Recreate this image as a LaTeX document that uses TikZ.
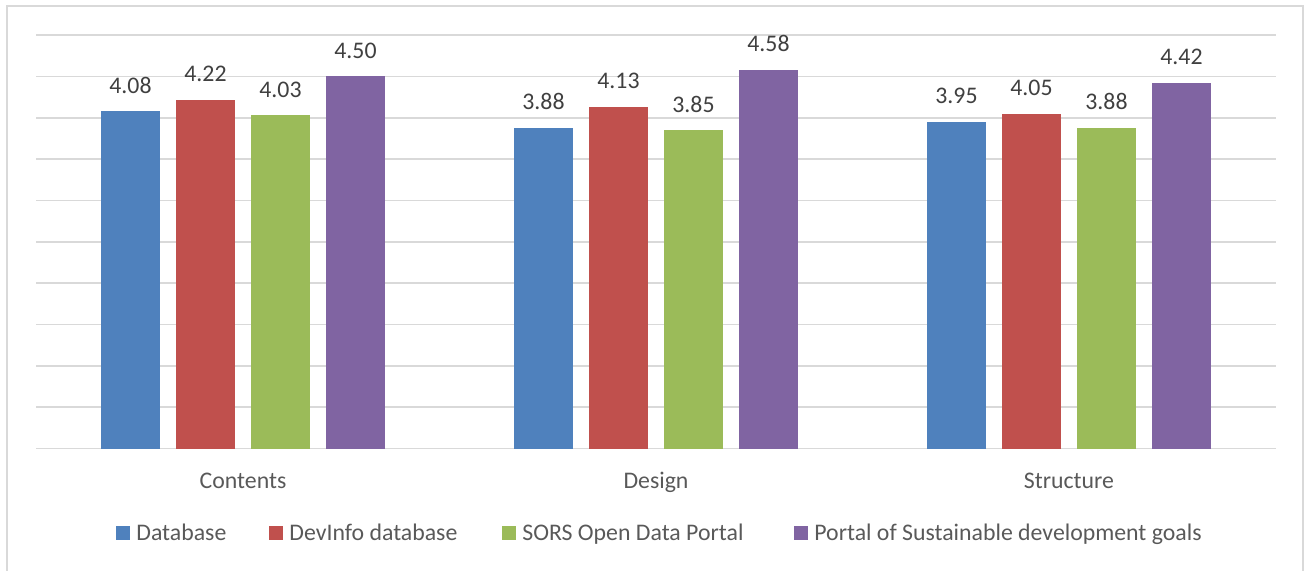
\documentclass[tikz,border=0pt]{standalone}
\usepackage{fontspec}
\setmainfont{Carlito}
\usetikzlibrary{positioning}
\definecolor{dbblue}{HTML}{4F81BD}
\definecolor{devred}{HTML}{C0504D}
\definecolor{sorsgreen}{HTML}{9BBB59}
\definecolor{sdgpurple}{HTML}{8064A2}
\definecolor{gridgray}{HTML}{D9D9D9}
\definecolor{labelgray}{HTML}{595959}
\definecolor{valuegray}{HTML}{404040}

\begin{document}
\begin{tikzpicture} [%
    x = 1pt,
    y = -1pt,
    every node/.style = {%
      font = \fontsize{23.8pt}{28pt}\selectfont,
      text = labelgray },
    gridline/.style = {%
      draw = gridgray,
      line width = 1.6pt },
    vallabel/.style = {%
      anchor = base,
      inner sep = 0pt,
      text = valuegray },
    catlabel/.style = {%
      anchor = base,
      inner sep = 0pt },
    keybox/.style = {%
      minimum size = 14pt,
      inner sep = 0pt,
      draw = none },
    keytext/.style = {%
      anchor = west,
      inner sep = 0pt,
      text height = 15.3pt,
      text depth = 0pt }
  ]

  \useasboundingbox (0,0) rectangle (1305,570);
  \draw[gridgray, line width = 1.6pt] (7,5.7) rectangle (1303,600);

  % gridlines every 0.5 from 0 to 5
  \foreach \k in {0,...,10}
    \draw[gridline] (36,448.5-\k*41.35) -- (1276,448.5-\k*41.35);

  % bars and value labels
  \foreach \col/\a/\b/\c [count=\s from 0] in
      {dbblue/4.08/3.88/3.95, devred/4.22/4.13/4.05,
       sorsgreen/4.03/3.85/3.88, sdgpurple/4.50/4.58/4.42}
    \foreach \v [count=\g from 0] in {\a,\b,\c} {
      \pgfmathsetmacro{\xc}{243+413*\g+(\s-1.5)*75}
      \pgfmathsetmacro{\yt}{448.5-\v*82.7}
      \fill[\col] (\xc-29.5,448.5) rectangle (\xc+29.5,\yt);
      \node[vallabel] (val-\s-\g) at (\xc,\yt-18) {\v};
    }

  % category names
  \node[catlabel] (contents)  at (243,488)  {Contents};
  \node[catlabel] (design)    at (656,488)  {Design};
  \node[catlabel] (structure) at (1069,488) {Structure};

  % legend
  \node[keybox, fill=dbblue]    (kdb)   at (123,533) {};
  \node[keytext] (tdb)   [right=6pt of kdb]   {Database};
  \node[keybox, fill=devred]    (kdev)  at (276,533) {};
  \node[keytext] (tdev)  [right=6pt of kdev]  {DevInfo database};
  \node[keybox, fill=sorsgreen] (ksors) at (509,533) {};
  \node[keytext] (tsors) [right=6pt of ksors] {SORS Open Data Portal};
  \node[keybox, fill=sdgpurple] (ksdg)  at (801,533) {};
  \node[keytext] (tsdg)  [right=6pt of ksdg]  {Portal of Sustainable development goals};

\end{tikzpicture}
\end{document}
